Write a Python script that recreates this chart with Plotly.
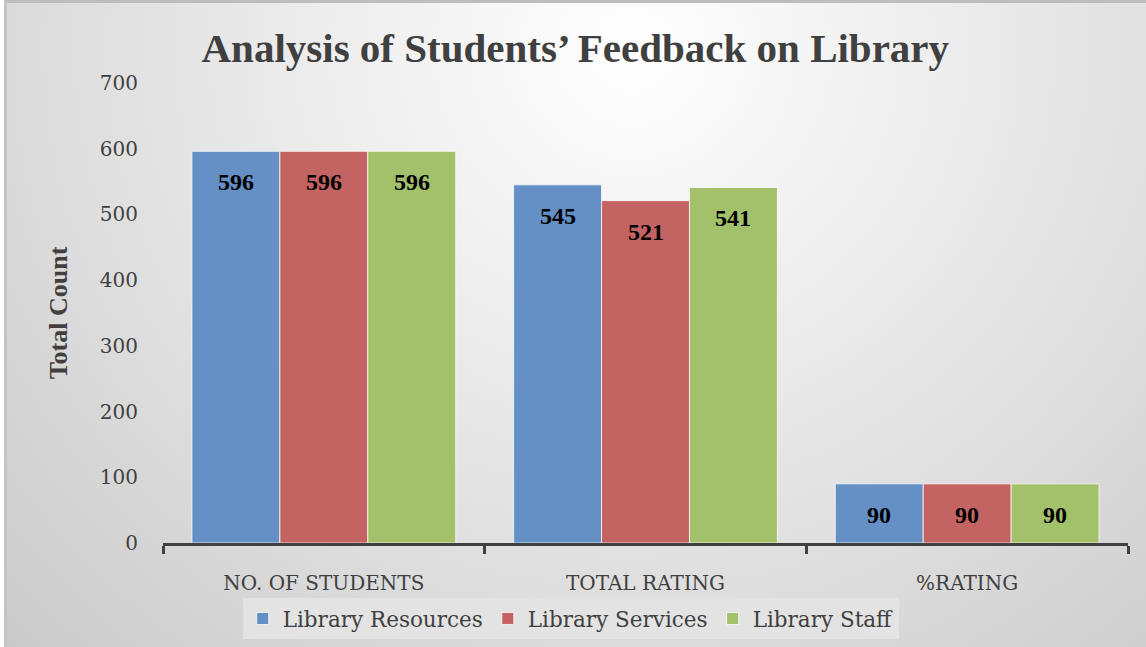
import base64
import plotly.graph_objects as go

categories = ["NO. OF STUDENTS", "TOTAL RATING", "%RATING"]
series_names = ["Library Resources", "Library Services", "Library Staff"]
resources = [596, 545, 90]
services = [596, 521, 90]
staff = [596, 541, 90]
y_ticks = [0, 100, 200, 300, 400, 500, 600, 700]

colors = ["#6490C6", "#C46462", "#A3C16B"]
W, H = 1146, 647
ML, MR, MT, MB = 163, 18, 83, 104
PW, PH = W - ML - MR, H - MT - MB
BARGAP = 0.18
bar_px = PW / len(categories) * (1 - BARGAP) / len(series_names)

svg = f'''<svg xmlns="http://www.w3.org/2000/svg" width="{W}" height="{H}" viewBox="0 0 {W} {H}" preserveAspectRatio="none">
<defs><radialGradient id="g" cx="0.55" cy="0.08" r="0.85" gradientTransform="translate(0.55 0.08) scale(1 1.7) translate(-0.55 -0.08)">
<stop offset="0" stop-color="#ffffff"/><stop offset="0.55" stop-color="#e0e0e0"/><stop offset="1" stop-color="#c4c4c4"/></radialGradient></defs>
<rect x="0" y="0" width="{W}" height="{H}" fill="#ffffff"/>
<rect x="4" y="0" width="{W-4}" height="{H}" fill="url(#g)"/>
<rect x="4" y="0" width="{W-4}" height="3" fill="#bdbdbd"/>
<rect x="4" y="0" width="3" height="{H}" fill="#c4c4c4"/>
</svg>'''
src = "data:image/svg+xml;base64," + base64.b64encode(svg.encode()).decode()

serif = "Liberation Serif, Times New Roman, serif"
wide = "DejaVu Serif, serif"
fig = go.Figure()
annotations = []
all_vals = [resources, services, staff]
for j, (name, vals, c) in enumerate(zip(series_names, all_vals, colors)):
    fig.add_trace(go.Bar(
        x=categories, y=vals, name=name,
        marker=dict(color=c, line=dict(color="rgba(255,255,255,0.75)", width=1)),
    ))
    for cat, v in zip(categories, vals):
        annotations.append(dict(
            x=cat, y=v, xref="x", yref="y", text=f"<b>{v}</b>", showarrow=False,
            xshift=(j - (len(series_names) - 1) / 2) * bar_px, yshift=-31, yanchor="middle",
            font=dict(family=serif, size=24, color="#000000"),
        ))

fig.update_layout(
    width=W, height=H, autosize=False,
    margin=dict(l=ML, r=MR, t=MT, b=MB, autoexpand=False),
    paper_bgcolor="rgba(0,0,0,0)", plot_bgcolor="rgba(0,0,0,0)",
    barmode="group", bargap=BARGAP, bargroupgap=0,
    font=dict(family=wide, color="#404040"),
    title=dict(text="<b>Analysis of Students’ Feedback on Library</b>", x=0.502, xref="container",
               y=1 - 48 / H, yref="container", yanchor="middle",
               font=dict(family=serif, size=41, color="#404040")),
    images=[dict(source=src, xref="paper", yref="paper", x=-ML / PW, y=1 + MT / PH,
                 sizex=W / PW, sizey=H / PH, sizing="stretch", xanchor="left", yanchor="top",
                 layer="below")],
    annotations=annotations,
    legend=dict(orientation="h", xref="container", yref="container", x=0.498, xanchor="center",
                y=1 - 598 / H, yanchor="top", bgcolor="#e3e3e3",
                font=dict(family=wide, size=21.5, color="#404040"),
                itemwidth=30, traceorder="normal"),
    showlegend=True,
)
fig.update_xaxes(
    automargin=False,
    showline=True, linecolor="#404040", linewidth=3, ticks="outside", tickson="boundaries",
    ticklen=8, tickwidth=3, tickcolor="#404040", ticklabelstandoff=20,
    tickfont=dict(family=wide, size=20, color="#404040"), showgrid=False,
)
fig.update_yaxes(
    automargin=False,
    range=[0, 700], tickvals=y_ticks, showgrid=False, showline=False, zeroline=False,
    tickfont=dict(family=wide, size=20, color="#404040"), ticklabelstandoff=24,
    title=dict(text="<b>Total Count</b>", font=dict(family=serif, size=26, color="#404040"), standoff=24),
)
fig.write_html("out.html", config={"responsive": False, "displayModeBar": False},
               post_script="document.body.style.margin='0';document.body.style.overflow='hidden';")
